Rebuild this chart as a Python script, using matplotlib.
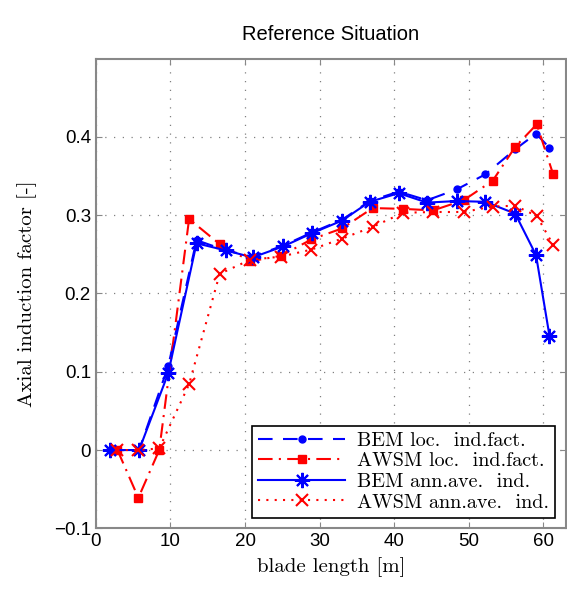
import numpy as np
import matplotlib
matplotlib.use('Agg')
import matplotlib.pyplot as plt

# blade positions [m]
bem_r = [1.9, 5.8, 9.7, 13.5, 17.4, 21.0, 25.1, 29.0, 33.0, 36.7, 40.6, 44.4, 48.4, 52.2, 56.2, 59.0, 60.8]
awsm_r = [2.9, 5.7, 8.5, 12.5, 16.6, 20.7, 24.8, 28.9, 33.0, 37.1, 41.2, 45.2, 49.3, 53.2, 56.2, 59.1, 61.3]

bem_loc = [0.0, 0.0, 0.107, 0.268, 0.255, 0.247, 0.261, 0.278, 0.294, 0.318, 0.330, 0.319, 0.333, 0.352,
           0.384, 0.404, 0.386]
awsm_loc = [0.0, -0.061, 0.0, 0.295, 0.263, 0.241, 0.248, 0.269, 0.283, 0.309, 0.308, 0.306, 0.319, 0.344,
            0.387, 0.416, 0.352]
bem_ann = [0.0, 0.0, 0.098, 0.264, 0.255, 0.246, 0.260, 0.277, 0.293, 0.317, 0.328, 0.316, 0.318, 0.317,
           0.302, 0.249, 0.146]
awsm_ann = [0.0, 0.0, 0.002, 0.084, 0.225, 0.243, 0.247, 0.256, 0.270, 0.285, 0.303, 0.304, 0.304, 0.311,
            0.312, 0.299, 0.262]

labels = ['BEM loc.  ind.fact.', 'AWSM loc.  ind.fact.', 'BEM ann.ave.  ind.', 'AWSM ann.ave.  ind.']

plt.rcParams['font.family'] = ['Liberation Sans', 'DejaVu Sans']
plt.rcParams['axes.unicode_minus'] = True

fig = plt.figure(figsize=(5.67, 5.91), dpi=100)
ax = fig.add_axes([0.169, 0.106, 0.829, 0.795])

blue = '#0000ff'
red = '#ff0000'
ax.plot(bem_r, bem_loc, color=blue, lw=1.5, dashes=(7, 5), marker='o', ms=5, label=labels[0])
ax.plot(awsm_r, awsm_loc, color=red, lw=1.5, dashes=(7, 3, 1, 3), marker='s', ms=5.5, label=labels[1])
ax.plot(bem_r, bem_ann, color=blue, lw=1.5, ls='-', marker=(8, 2, 0), ms=11, mew=1.5, label=labels[2])
ax.plot(awsm_r, awsm_ann, color=red, lw=1.5, dashes=(1, 3), marker='x', ms=9, mew=1.5, label=labels[3])

ax.set_xlim(0, 63)
ax.set_ylim(-0.1, 0.5)
ax.set_xticks(np.arange(0, 61, 10))
ax.set_yticks([-0.1, 0, 0.1, 0.2, 0.3, 0.4])
ax.set_yticklabels(['\u22120.1', '0', '0.1', '0.2', '0.3', '0.4'])
ax.grid(True, color='#808080', lw=0.9, dashes=(1, 6))
ax.tick_params(direction='in', top=True, right=True, labelsize=13.5, length=4, color='#888888')
for s in ax.spines.values():
    s.set_color('#888888')
    s.set_linewidth(1.5)

ax.set_title('Reference Situation', fontsize=14.5, pad=13)
ax.set_xlabel('blade length [m]', family='cmr10', fontsize=15, labelpad=5)
ax.set_ylabel('Axial induction factor [-]', family='cmr10', fontsize=15, labelpad=12)

leg = ax.legend(loc='lower right', prop={'family': 'cmr10', 'size': 14.5}, handlelength=4.3,
                borderpad=0.3, labelspacing=0.12, handletextpad=0.6, fancybox=False, framealpha=1,
                edgecolor='black', borderaxespad=0, bbox_to_anchor=(0.977, 0.023))
leg.get_frame().set_linewidth(1.2)

fig.savefig('out.png', dpi=100)
